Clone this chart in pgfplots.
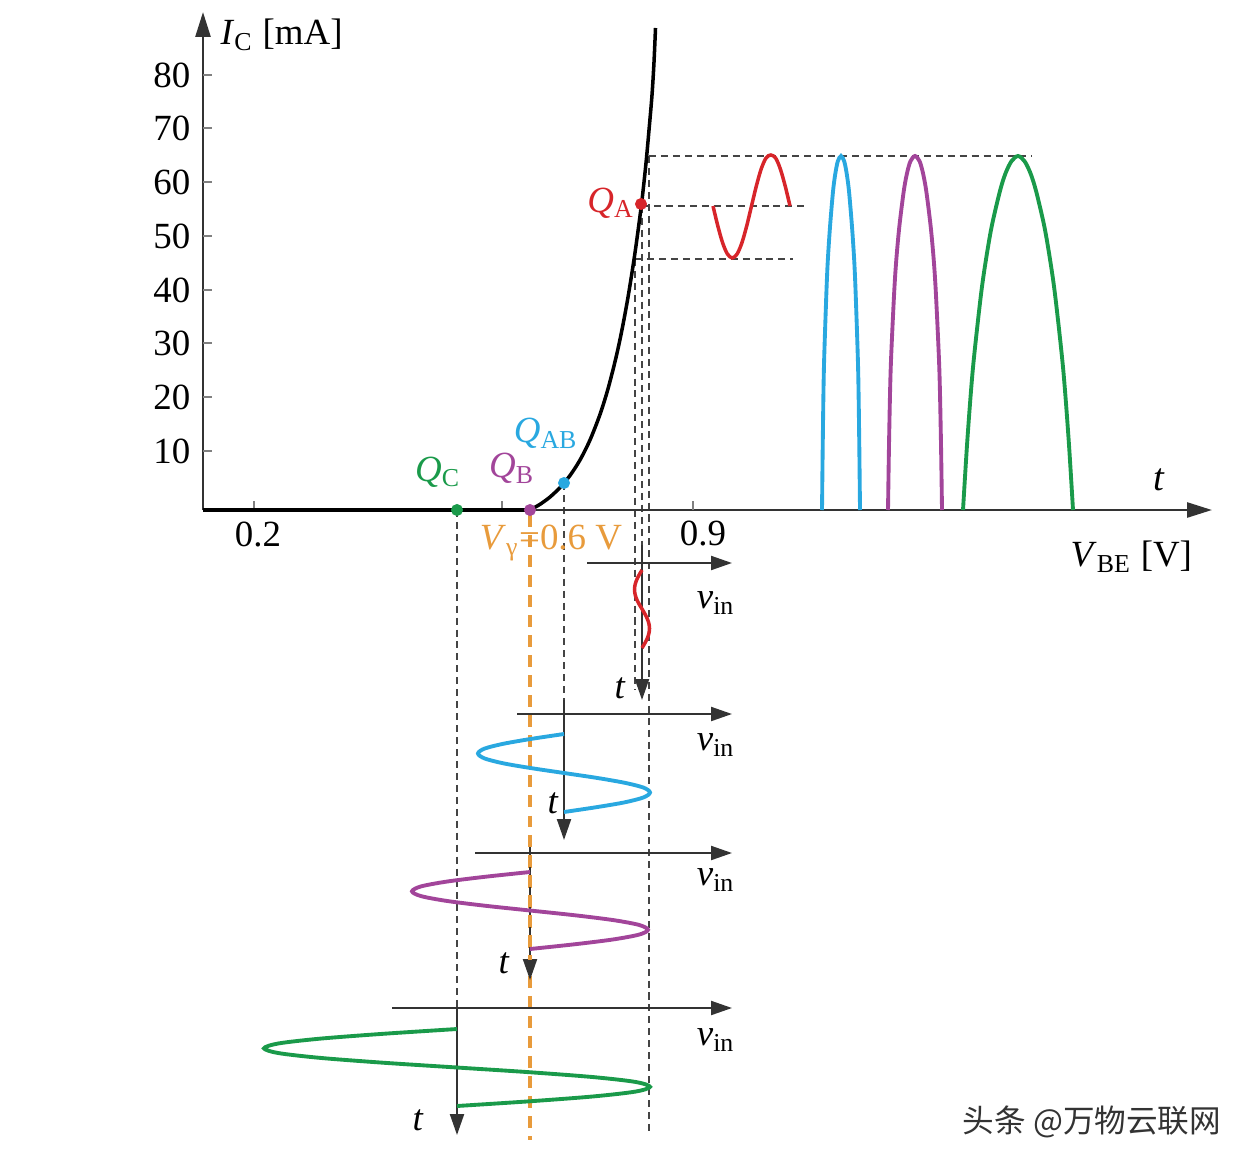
\documentclass[border=0pt]{standalone}
\usepackage{pgfplots}
\pgfplotsset{compat=1.18}
\usepackage{fontspec}
\setmainfont{Liberation Serif}
\newfontfamily\cjk{Noto Sans CJK SC}
\usetikzlibrary{arrows.meta}
\definecolor{cred}{HTML}{D7252A}
\definecolor{cblue}{HTML}{29A8E0}
\definecolor{cpurple}{HTML}{A2459A}
\definecolor{cgreen}{HTML}{1A9A4A}
\definecolor{corange}{HTML}{E89B3C}
\definecolor{cgray}{HTML}{444444}
\definecolor{cax}{HTML}{333333}
\begin{document}
\begin{tikzpicture}[
  gd/.style={cgray,line width=0.45pt,dash pattern=on 2pt off 1.4pt},
  od/.style={corange,line width=0.9pt,dash pattern=on 3.4pt off 2.3pt},
  tarr/.style={cax,line width=0.6pt,-{Triangle[length=2.1mm,width=1.4mm]}},
  lab/.style={font=\fontsize{10.5}{12}\selectfont}
]
\begin{axis}[width=12.51cm,height=11.67cm,scale only axis,
  xmin=0,xmax=1251,ymin=0,ymax=1167,y dir=reverse,hide axis,clip=false]
\path (rel axis cs:0,0) rectangle (rel axis cs:1,1);
% dashed guide lines
\addplot[gd] coordinates {(649,156) (1032,156)};
\addplot[gd] coordinates {(642,206) (805,206)};
\addplot[gd] coordinates {(635,259) (793,259)};
\addplot[gd] coordinates {(649,156) (649,1135)};
\addplot[gd] coordinates {(642,206) (642,545)};
\addplot[gd] coordinates {(635,259) (635,690)};
\addplot[gd] coordinates {(564,483) (564,700)};
\addplot[gd] coordinates {(457,510) (457,1008)};
% main axes
\addplot[cax,line width=0.75pt,-{Triangle[length=2.5mm,width=1.5mm]}] coordinates {(203,510) (203,12)};
\addplot[cax,line width=0.75pt,-{Triangle[length=2.5mm,width=1.5mm]}] coordinates {(203,510) (1212,510)};
% ticks
\addplot[gray,line width=0.5pt] coordinates {(254,510) (254,501)};
\addplot[gray,line width=0.5pt] coordinates {(502,510) (502,501)};
\addplot[gray,line width=0.5pt] coordinates {(693,510) (693,501)};
\foreach \yy in {75,128,182,236,290,343,397,451}{
  \edef\tmp{\noexpand\addplot[gray,line width=0.5pt] coordinates {(203,\yy) (212,\yy)};}\tmp
}
% characteristic curve
\addplot[black,line width=1.1pt] coordinates {(203,510) (530,510)};
\addplot[black,line width=1pt,smooth] coordinates {(530,510) (540,504.3) (550,497) (560,487.5) (570,475.5) (580,460) (590,440) (600,414.4) (608,388.8) (616,357.5) (622,329.6) (628,297.2) (634,259.5) (638,231) (642,200) (646,163) (649,130) (652,95) (654,62) (655.5,28)};
% input sine at Q_A
\addplot[cred,line width=1pt,smooth] coordinates {(713,206) (717.8,225.9) (722.6,242.8) (727.4,254.0) (732.3,258) (737.1,254.0) (741.9,242.8) (746.7,225.9) (751.5,206) (756.3,186.1) (761.1,169.2) (766.0,158.0) (770.8,155) (775.6,158.0) (780.4,169.2) (785.2,186.1) (790,206)};
% output pulses
\addplot[cblue,line width=1.1pt,smooth] coordinates {(822,510) (822.8,439.2) (823.9,368.4) (826.2,297.6) (827.7,262.2) (830.0,226.8) (833.0,191.4) (835.3,173.7) (837.8,161.3) (841,156) (844.2,161.3) (846.7,173.7) (849.0,191.4) (852.0,226.8) (854.3,262.2) (855.8,297.6) (858.1,368.4) (859.2,439.2) (860,510)};
\addplot[cpurple,line width=1.1pt,smooth] coordinates {(888,510) (889.1,439.2) (890.7,368.4) (893.9,297.6) (896.1,262.2) (899.3,226.8) (903.7,191.4) (906.9,173.7) (910.4,161.3) (915,156) (919.6,161.3) (923.1,173.7) (926.3,191.4) (930.7,226.8) (933.9,262.2) (936.1,297.6) (939.3,368.4) (940.9,439.2) (942,510)};
\addplot[cgreen,line width=1.1pt,smooth] coordinates {(963,510) (967.4,439.2) (972.9,368.4) (980.6,297.6) (985.55,262.2) (991.6,226.8) (999.85,191.4) (1005.35,173.7) (1011.4,161.3) (1018,156) (1024.6,161.3) (1030.65,173.7) (1036.15,191.4) (1044.4,226.8) (1050.45,262.2) (1055.4,297.6) (1063.1,368.4) (1068.6,439.2) (1073,510)};
% orange threshold line
\addplot[od] coordinates {(530,515) (530,1140)};
% v_in / t axes
\addplot[tarr] coordinates {(587,563) (732,563)};
\addplot[tarr] coordinates {(642,545) (642,700)};
\addplot[tarr] coordinates {(517,714) (732,714)};
\addplot[tarr] coordinates {(564,700) (564,840)};
\addplot[tarr] coordinates {(475,853) (732,853)};
\addplot[tarr] coordinates {(530,835) (530,980)};
\addplot[od] coordinates {(530,835) (530,960)};
\addplot[tarr] coordinates {(392,1008) (732,1008)};
\addplot[tarr] coordinates {(457,1008) (457,1135)};
% input waveforms
\addplot[cred,line width=1pt,smooth] coordinates {(642,570) (639.1,574.9) (636.7,579.8) (635.1,584.6) (634.5,589.5) (635.1,594.4) (636.7,599.3) (639.1,604.1) (642,609) (644.9,613.9) (647.3,618.8) (648.9,623.6) (649.5,628.5) (648.9,633.4) (647.3,638.3) (644.9,643.1) (642,648)};
\addplot[cblue,line width=1.1pt,smooth] coordinates {(564,734) (531.1,738.9) (503.2,743.8) (484.5,748.6) (478,753.5) (484.5,758.4) (503.2,763.3) (531.1,768.1) (564,773) (596.9,777.9) (624.8,782.8) (643.5,787.6) (650,792.5) (643.5,797.4) (624.8,802.3) (596.9,807.1) (564,812)};
\addplot[cpurple,line width=1.1pt,smooth] coordinates {(530,872) (484.8,876.8) (446.6,881.6) (421.0,886.4) (412,891.3) (421.0,896.1) (446.6,900.9) (484.8,905.7) (530,910.5) (575.2,915.3) (613.4,920.1) (639.0,924.9) (648,929.8) (639.0,934.6) (613.4,939.4) (575.2,944.2) (530,949)};
\addplot[cgreen,line width=1.1pt,smooth] coordinates {(457,1029) (383.1,1033.8) (320.5,1038.6) (278.7,1043.4) (264,1048.3) (278.7,1053.1) (320.5,1057.9) (383.1,1062.7) (457,1067.5) (530.9,1072.3) (593.5,1077.1) (635.3,1081.9) (650,1086.8) (635.3,1091.6) (593.5,1096.4) (530.9,1101.2) (457,1106)};
% operating points
\addplot[only marks,mark=*,mark size=1.5pt,cgreen] coordinates {(457,510)};
\addplot[only marks,mark=*,mark size=1.5pt,cpurple] coordinates {(530,510)};
\addplot[only marks,mark=*,mark size=1.5pt,cblue] coordinates {(564,483)};
\addplot[only marks,mark=*,mark size=1.5pt,cred] coordinates {(641,204)};
% labels
\foreach \yy/\ll in {75/80,128/70,182/60,236/50,290/40,343/30,397/20,451/10}{
  \edef\tmp{\noexpand\node[lab,anchor=east,inner sep=0pt] at (axis cs:191,\yy) {\ll};}\tmp
}
\node[lab] at (axis cs:258,534) {0.2};
\node[lab] at (axis cs:703,533) {0.9};
\node[lab,anchor=west,inner sep=0pt] at (axis cs:220,35) {\textit{I}\textsubscript{C} [mA]};
\node[font=\fontsize{10.5}{13}\selectfont,anchor=west,inner sep=0pt] at (axis cs:1070,557) {\textit{V}\textsubscript{BE} [V]};
\node[font=\fontsize{11}{13}\selectfont] at (axis cs:1159,480) {\textit{t}};
\node[lab,text=cgreen] at (axis cs:438,472) {\textit{Q}\textsubscript{C}};
\node[lab,text=cpurple] at (axis cs:512,468) {\textit{Q}\textsubscript{B}};
\node[lab,text=cblue] at (axis cs:546,433) {\textit{Q}\textsubscript{AB}};
\node[lab,text=cred] at (axis cs:611,203) {\textit{Q}\textsubscript{A}};
\node[lab,text=corange] at (axis cs:551,543) {\textit{V}\textsubscript{γ}=0.6 V};
\foreach \yy in {603,745,880,1040}{
  \edef\tmp{\noexpand\node[lab] at (axis cs:716,\yy) {\noexpand\textit{v}\noexpand\textsubscript{in}};}\tmp
}
\node[lab] at (axis cs:620,688) {\textit{t}};
\node[lab] at (axis cs:553,803) {\textit{t}};
\node[lab] at (axis cs:504,963) {\textit{t}};
\node[lab] at (axis cs:418,1120) {\textit{t}};
\node[font=\cjk\fontsize{9}{11}\selectfont,text=cax] at (axis cs:1092,1122) {头条 @万物云联网};
\end{axis}
\end{tikzpicture}
\end{document}
